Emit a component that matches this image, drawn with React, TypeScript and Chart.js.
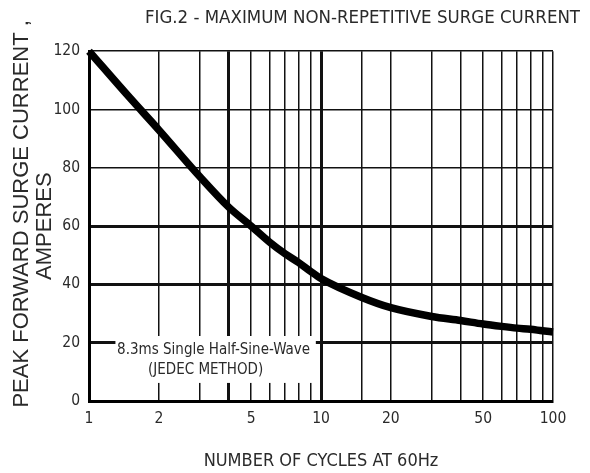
import React, { useEffect, useRef } from 'react';
import { Chart, registerables } from 'chart.js';

Chart.register(...registerables);

const cycles = [1, 1.5, 2, 3, 4, 5, 6, 7, 8, 9, 10, 15, 20, 30, 40, 50, 60, 70, 80, 90, 100];
const current = [120, 104, 93, 77, 66.5, 60, 54.5, 50.5, 47.5, 44.5, 42, 35.5, 32, 29, 27.6, 26.4, 25.6, 25, 24.6, 24.1, 23.7];
const xLabelTicks = [1, 2, 5, 10, 20, 50, 100];
const xThickLines = [4, 10];
const yThickLines = [20, 40, 60];
const yMin = 0;
const yMax = 120;
const yStep = 20;
const titleText = 'FIG.2 - MAXIMUM NON-REPETITIVE SURGE CURRENT';
const yTitle = ['    PEAK FORWARD SURGE CURRENT ,', 'AMPERES'];
const xTitle = 'NUMBER OF CYCLES AT 60Hz';
const noteLines = ['8.3ms Single Half-Sine-Wave', '(JEDEC METHOD)'];
const noteBox = { x0: 1.3, x1: 9.5, y0: 22.3, y1: 6.2 };
const noteTextY = [17.5, 10.6];

const FONT = "'DejaVu Sans Condensed', 'Liberation Sans', sans-serif";
const WIDE = "'Liberation Sans', Arial, sans-serif";
const TEXT = '#2a2a2a';

const notePlugin = {
  id: 'note',
  beforeDatasetsDraw(chart: any) {
    const { ctx } = chart;
    const x = chart.scales.x;
    const y = chart.scales.y;
    const l = x.getPixelForValue(noteBox.x0);
    const r = x.getPixelForValue(noteBox.x1);
    const t = y.getPixelForValue(noteBox.y0);
    const b = y.getPixelForValue(noteBox.y1);
    ctx.save();
    ctx.fillStyle = '#fff';
    ctx.fillRect(l, t, r - l, b - t);
    ctx.fillStyle = TEXT;
    ctx.textAlign = 'center';
    ctx.textBaseline = 'middle';
    ctx.font = `15px ${FONT}`;
    const cx = (l + r) / 2;
    ctx.fillText(noteLines[0], cx - 2, y.getPixelForValue(noteTextY[0]));
    ctx.fillText(noteLines[1], cx - 10, y.getPixelForValue(noteTextY[1]));
    ctx.restore();
  },
};

export default function App() {
  const ref = useRef<HTMLCanvasElement | null>(null);
  useEffect(() => {
    if (!ref.current) return;
    const chart = new Chart(ref.current, {
      type: 'line',
      data: {
        datasets: [
          {
            data: cycles.map((c, i) => ({ x: c, y: current[i] })),
            borderColor: '#000',
            borderWidth: 7.5,
            pointRadius: 0,
            cubicInterpolationMode: 'monotone',
            fill: false,
            clip: false as any,
          },
        ],
      },
      plugins: [notePlugin],
      options: {
        animation: false,
        responsive: true,
        maintainAspectRatio: false,
        layout: { padding: { left: 0, right: 10, top: 0, bottom: 0 } },
        plugins: {
          legend: { display: false },
          tooltip: { enabled: false },
          title: {
            display: true,
            text: titleText,
            align: 'end',
            color: TEXT,
            font: { family: FONT, size: 18.5, weight: 'normal' },
            padding: { top: 7, bottom: 22 },
          },
        },
        scales: {
          x: {
            type: 'logarithmic',
            min: 1,
            max: 100,
            afterFit: (s: any) => {
              s.height = 72;
            },
            border: { display: true, color: '#000', width: 3 },
            grid: {
              color: '#111',
              drawTicks: false,
              lineWidth: (c: any) => (c.tick && xThickLines.includes(c.tick.value) ? 3 : 1.5),
            },
            ticks: {
              autoSkip: false,
              maxRotation: 0,
              padding: 9,
              color: TEXT,
              font: { family: FONT, size: 15.5 },
              callback: (v: any) => (xLabelTicks.includes(Number(v)) ? String(v) : ''),
            },
            title: {
              display: true,
              text: xTitle,
              color: TEXT,
              font: { family: FONT, size: 18 },
              padding: { top: 0, bottom: 1 },
            },
          },
          y: {
            type: 'linear',
            min: yMin,
            max: yMax,
            afterFit: (s: any) => {
              s.width = 89;
            },
            border: { display: true, color: '#000', width: 3 },
            grid: {
              color: '#111',
              drawTicks: false,
              lineWidth: (c: any) => (c.tick && yThickLines.includes(c.tick.value) ? 3 : 1.5),
            },
            ticks: {
              stepSize: yStep,
              padding: 9,
              color: TEXT,
              font: { family: FONT, size: 15.5 },
            },
            title: {
              display: true,
              text: yTitle,
              color: TEXT,
              font: { family: WIDE, size: 22, lineHeight: 23 / 22 },
              padding: { top: 10.5, bottom: 0 },
            },
          },
          yR: {
            type: 'linear',
            position: 'right',
            display: true,
            min: yMin,
            max: yMax,
            afterFit: (s: any) => {
              s.width = 27;
            },
            grid: { display: false, drawTicks: false },
            border: { display: false },
            ticks: { display: false },
          },
        },
      },
    });
    return () => chart.destroy();
  }, []);
  return (
    <div style={{ position: 'fixed', left: 0, top: 0, width: 590, height: 473, background: '#fff' }}>
      <canvas ref={ref} />
    </div>
  );
}
